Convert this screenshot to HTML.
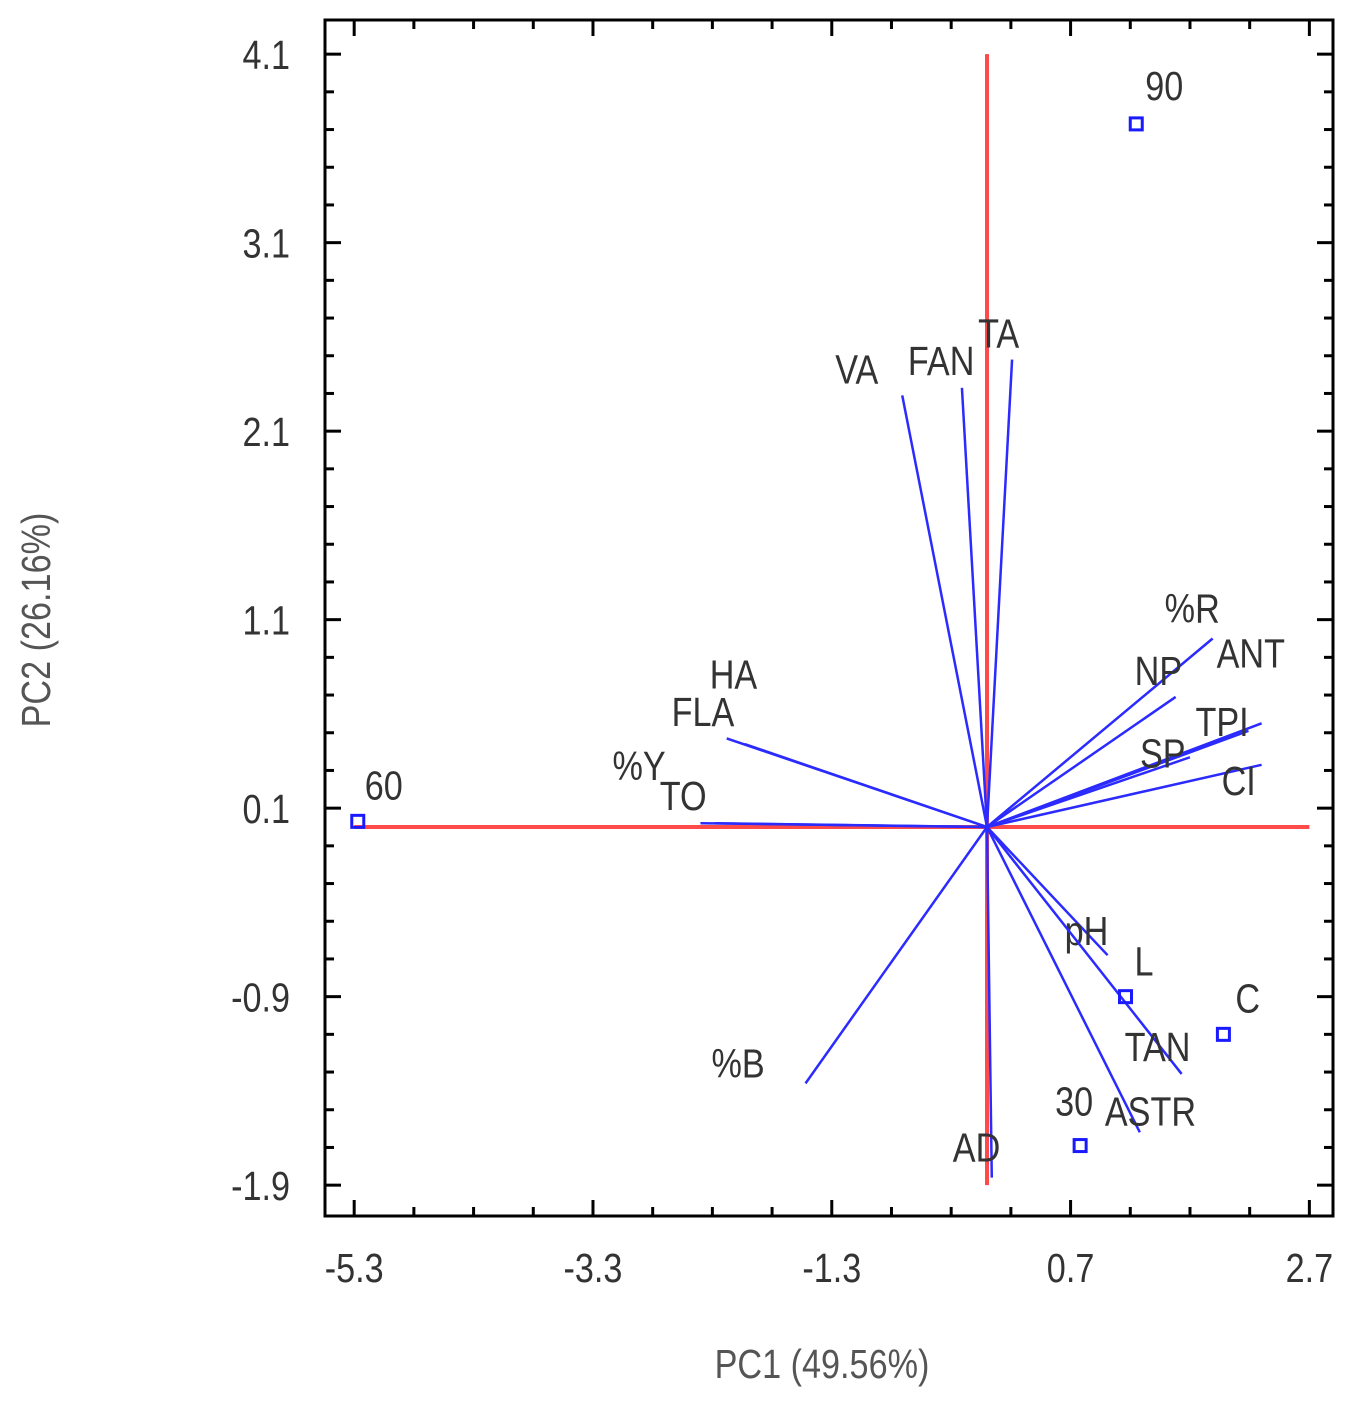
<!DOCTYPE html>
<html><head><meta charset="utf-8"><style>
html,body{margin:0;padding:0;background:#fff;}
svg{display:block;font-family:"Liberation Sans",sans-serif;}
</style></head><body>
<svg id="chart" width="1354" height="1402" viewBox="0 0 1354 1402" xmlns="http://www.w3.org/2000/svg"></svg>
<script>
const xTicks = [-5.3, -3.3, -1.3, 0.7, 2.7];
const yTicks = [4.1, 3.1, 2.1, 1.1, 0.1, -0.9, -1.9];
const vecNames = ["VA","FAN","TA","%R","NP","ANT","TPI","SP","CI","HA","FLA","%Y","TO","pH","TAN","ASTR","%B","AD"];
const vecX = [-0.71,-0.21,0.21,1.89,1.58,2.30,2.19,1.70,2.30,-2.18,-2.03,-2.40,-2.28,1.01,1.63,1.28,-1.52,0.04];
const vecY = [2.29,2.33,2.48,1.00,0.69,0.55,0.51,0.37,0.33,0.47,0.44,0.02,0.02,-0.68,-1.31,-1.62,-1.36,-1.86];
const ptNames = ["90","60","L","C","30"];
const ptX = [1.25,-5.27,1.16,1.98,0.78];
const ptY = [3.73,0.03,-0.90,-1.10,-1.69];

const vecLabOff = [[-67,-12],[-54,-13],[-34,-12],[-48,-16],[-41,-12],[-45,-56],[-53,5],[-50,10],[-40,30],[-17,-50],[-73,-18],[-88,-43],[-55,-13],[-43,-10],[-57,-13],[-35,-7],[-94,-6],[-39,-16]];
const ptLabOff = [[9,-24],[7,-22],[9,-21],[12,-22],[-25,-30]];

const X0=987, Y0=827, SX=119.4, SY=188.5;
const xs = v => X0 + v*SX;
const ys = v => Y0 - v*SY;
const L={l:325,r:1333,t:20,b:1216};
const svg=document.getElementById('chart');
const NS="http://www.w3.org/2000/svg";
function mk(tag,attrs,parent){const e=document.createElementNS(NS,tag);for(const k in attrs)e.setAttribute(k,attrs[k]);(parent||svg).appendChild(e);return e;}
// tall, slightly condensed text like the reference
function txt(x,y,s,anchor,fill){
 const t=mk('text',{x:0,y:0,'text-anchor':anchor||'start','font-size':36,fill:fill||'#333',transform:`translate(${x},${y}) scale(0.95,1.12)`});
 t.textContent=s;return t;}

const frame=mk('rect',{x:L.l,y:L.t,width:L.r-L.l,height:L.b-L.t,fill:'none',stroke:'#000','stroke-width':3});



const tg=mk('g',{stroke:'#000','stroke-width':3});


for(let i=0;i<=16;i++){const v=xTicks[0]+i*0.5;const x=xs(v);const len=(i%4==0)?16:9;
 mk('line',{x1:x,y1:L.b,x2:x,y2:L.b-len},tg);mk('line',{x1:x,y1:L.t,x2:x,y2:L.t+len},tg);}
for(let i=0;i<=30;i++){const v=yTicks[yTicks.length-1]+i*0.2;const y=ys(v);const len=(i%5==0)?16:9;
 mk('line',{x1:L.l,y1:y,x2:L.l+len,y2:y},tg);mk('line',{x1:L.r,y1:y,x2:L.r-len,y2:y},tg);}

xTicks.forEach(v=>{const t=txt(xs(v),1282,(v<0?'-':'')+Math.abs(v).toFixed(1),'middle');
 
 });
yTicks.forEach(v=>{const t=txt(290,ys(v)+15,(v<0?'-':'')+Math.abs(v).toFixed(1),'end');
 
 });

const xt=txt(822,1378,'PC1 (49.56%)','middle','#555');


const yt=mk('text',{x:0,y:0,'text-anchor':'middle','font-size':36,fill:'#555',transform:'translate(50,620) rotate(-90) scale(0.95,1.12)'});yt.textContent='PC2 (26.16%)';



const rh=mk('line',{x1:xs(-5.3),y1:ys(0),x2:xs(2.7),y2:ys(0),stroke:'#ff4a4a','stroke-width':4});


const rv=mk('line',{x1:xs(0),y1:ys(4.1),x2:xs(0),y2:ys(-1.9),stroke:'#ff4a4a','stroke-width':4});



vecNames.forEach((n,i)=>{
 const ln=mk('line',{x1:xs(0),y1:ys(0),x2:xs(vecX[i]),y2:ys(vecY[i]),stroke:'#2b2bff','stroke-width':2.5});
 
 
 const t=txt(xs(vecX[i])+vecLabOff[i][0],ys(vecY[i])+vecLabOff[i][1],n);
 
 
});

ptNames.forEach((n,i)=>{
 const r=mk('rect',{x:xs(ptX[i])-6,y:ys(ptY[i])-6,width:12,height:12,fill:'none',stroke:'#1a1aff','stroke-width':3});
 
 
 const t=txt(xs(ptX[i])+ptLabOff[i][0],ys(ptY[i])+ptLabOff[i][1],n);
 
 
});
</script>
</body></html>
